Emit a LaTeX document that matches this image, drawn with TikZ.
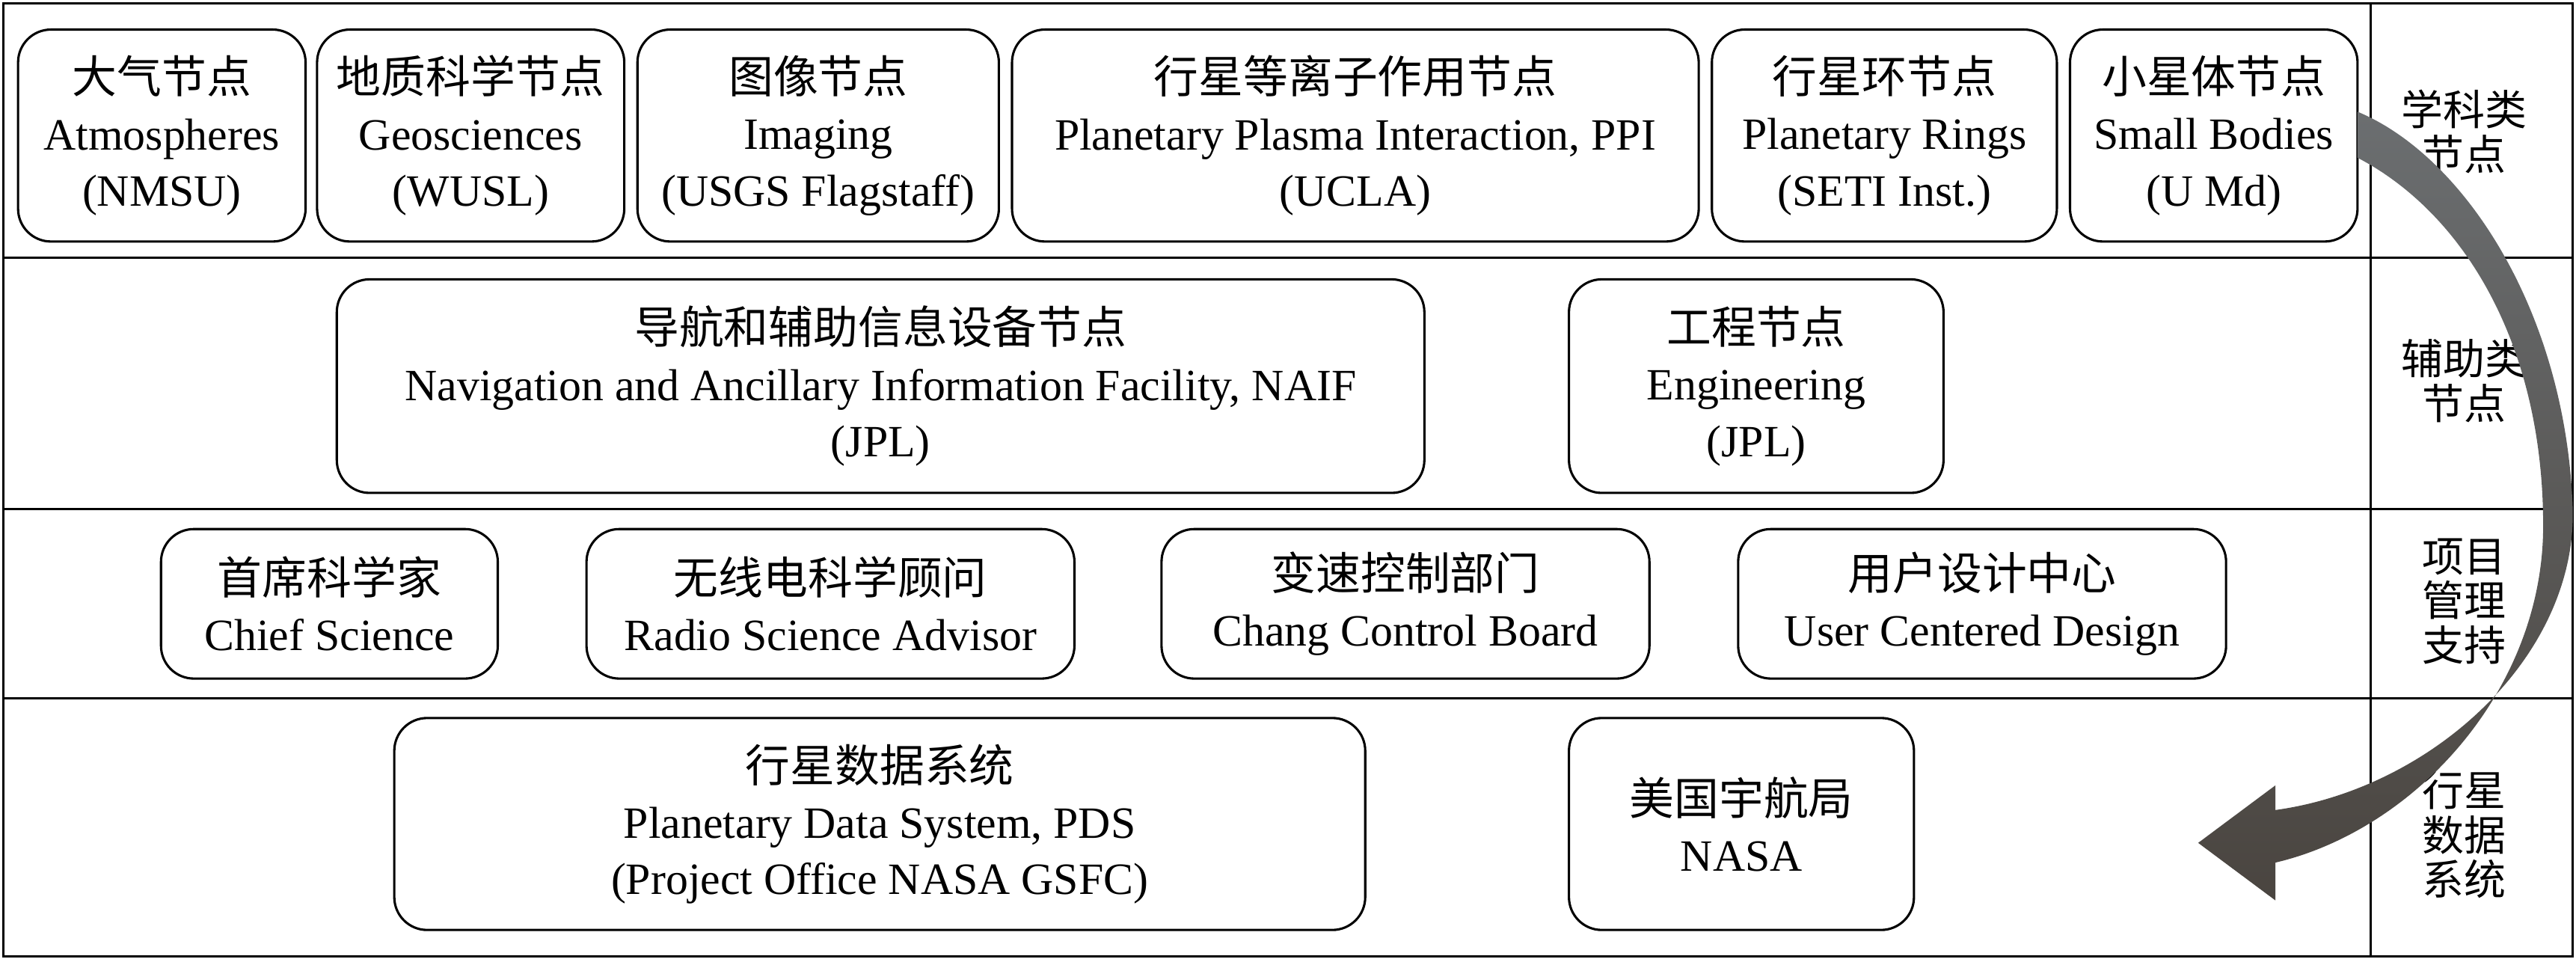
\documentclass[tikz,border=0pt]{standalone}
\usepackage{fontspec}
\setmainfont{Liberation Serif}
\newfontfamily\cjk{Noto Sans CJK SC}
\definecolor{atop}{HTML}{6B6E70}
\definecolor{abot}{HTML}{4A4540}
\begin{document}
\begin{tikzpicture}[x=0.02cm,y=-0.02cm,
  bx/.style={draw,line width=0.8pt,rounded corners=0.4cm,align=center,inner sep=0pt,
    font=\fontsize{15.5}{19.5}\selectfont},
  lab/.style={align=center,font=\fontsize{14.5}{15.5}\cjk}]
\newcommand\mybox[6]{\node[bx,minimum width={(#4-#2)*0.02cm},minimum height={(#5-#3)*0.02cm}] (#1) at ({(#2+#4)/2},{(#3+#5)/2}) {#6};}
\useasboundingbox (0,0) rectangle (1568,585.5);
\draw[line width=0.8pt] (2,2) rectangle (1566,582);
\draw[line width=0.8pt] (1443,2) -- (1443,582);
\foreach \y in {157,310,425} \draw[line width=0.8pt] (2,\y) -- (1566,\y);
\mybox{a}{11}{18}{186}{147}{{\cjk 大气节点}\\Atmospheres\\(NMSU)}
\mybox{b}{193}{18}{380}{147}{{\cjk 地质科学节点}\\Geosciences\\(WUSL)}
\mybox{c}{388}{18}{608}{147}{{\cjk 图像节点}\\Imaging\\(USGS Flagstaff)}
\mybox{d}{616}{18}{1034}{147}{{\cjk 行星等离子作用节点}\\Planetary Plasma Interaction, PPI\\(UCLA)}
\mybox{e}{1042}{18}{1252}{147}{{\cjk 行星环节点}\\Planetary Rings\\(SETI Inst.)}
\mybox{f}{1260}{18}{1435}{147}{{\cjk 小星体节点}\\Small Bodies\\(U Md)}
\mybox{g}{205}{170}{867}{300}{{\cjk 导航和辅助信息设备节点}\\Navigation and Ancillary Information Facility, NAIF\\(JPL)}
\mybox{h}{955}{170}{1183}{300}{{\cjk 工程节点}\\Engineering\\(JPL)}
\mybox{i}{98}{322}{303}{413}{{\cjk 首席科学家}\\Chief Science}
\mybox{j}{357}{322}{654}{413}{{\cjk 无线电科学顾问}\\Radio Science Advisor}
\mybox{k}{707}{322}{1004}{413}{{\cjk 变速控制部门}\\Chang Control Board}
\mybox{l}{1058}{322}{1355}{413}{{\cjk 用户设计中心}\\User Centered Design}
\mybox{m}{240}{437}{831}{566}{{\cjk 行星数据系统}\\Planetary Data System, PDS\\(Project Office NASA GSFC)}
\mybox{n}{955}{437}{1165}{566}{{\cjk 美国宇航局}\\NASA}
\node[lab] (l1) at (1500,80) {学科类\\节点};
\node[lab] (l2) at (1500,232) {辅助类\\节点};
\node[lab] (l3) at (1500,366) {项目\\管理\\支持};
\node[lab] (l4) at (1500,508) {行星\\数据\\系统};
\shade[top color=atop,bottom color=abot]
 (1435,68) .. controls (1500,95) and (1562,190) .. (1566,310)
 .. controls (1568,400) and (1480,480) .. (1385,493)
 -- (1385,478) -- (1338,513) -- (1385,548) -- (1385,525)
 .. controls (1470,505) and (1548,420) .. (1548,320)
 .. controls (1548,210) and (1500,130) .. (1435,96) -- cycle;
\end{tikzpicture}
\end{document}
